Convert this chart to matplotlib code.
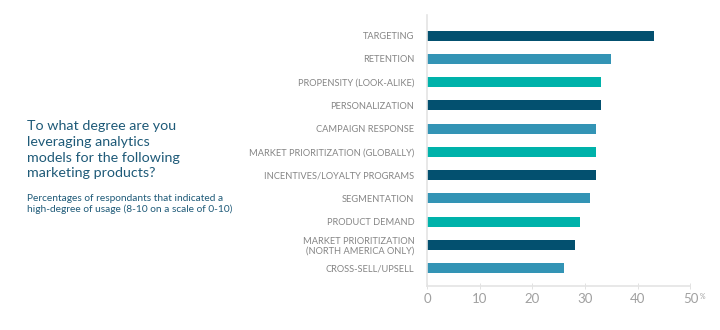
import matplotlib.pyplot as plt

# survey results, top to bottom
products = ['TARGETING', 'RETENTION', 'PROPENSITY (LOOK-ALIKE)', 'PERSONALIZATION',
            'CAMPAIGN RESPONSE', 'MARKET PRIORITIZATION (GLOBALLY)',
            'INCENTIVES/LOYALTY PROGRAMS', 'SEGMENTATION', 'PRODUCT DEMAND',
            'MARKET PRIORITIZATION\n(NORTH AMERICA ONLY)', 'CROSS-SELL/UPSELL']
pct = [43, 35, 33, 33, 32, 32, 32, 31, 29, 28, 26]
xticks = [0, 10, 20, 30, 40, 50]

NAVY = '#03506F'
BLUE = '#3394B5'
TEAL = '#00B2AA'
palette = [NAVY, BLUE, TEAL]
colors = [palette[i % 3] for i in range(len(products))]

plt.rcParams['font.family'] = ['Lato', 'DejaVu Sans']

fig = plt.figure(figsize=(7.2, 3.3), dpi=100)
ax = fig.add_axes([0.593, 0.134, 0.366, 0.821])

pos = list(range(len(products)))
ax.barh(pos, pct, height=0.43, color=colors)
ax.set_ylim(len(products) - 1 + 0.76, -0.89)
ax.set_xlim(0, 50)

ax.set_yticks(pos)
ax.set_yticklabels(products, fontsize=6.7, color='#858585', linespacing=1.15)
ax.tick_params(axis='y', length=0, pad=9)
ax.set_xticks(xticks)
ax.set_xticklabels([str(t) for t in xticks], fontsize=9.5, color='#a0a0a0')
ax.tick_params(axis='x', direction='inout', length=4, width=0.6, color='#dddddd', pad=3)
ax.text(51.7, -0.025, '%', transform=ax.get_xaxis_transform(), fontsize=5,
        color='#a0a0a0', va='top', ha='left', clip_on=False)

for side in ['top', 'right']:
    ax.spines[side].set_visible(False)
for side in ['left', 'bottom']:
    ax.spines[side].set_color('#e4e4e4')
    ax.spines[side].set_linewidth(1.2)

fig.text(0.038, 0.635, 'To what degree are you\nleveraging analytics\nmodels for the following\nmarketing products?',
         fontsize=10.3, color='#1E5A78', ha='left', va='top', linespacing=1.36)
fig.text(0.038, 0.413, 'Percentages of respondants that indicated a\nhigh-degree of usage (8-10 on a scale of 0-10)',
         fontsize=7.3, color='#1E5A78', ha='left', va='top', linespacing=1.25)

fig.savefig('out.png', dpi=100)
